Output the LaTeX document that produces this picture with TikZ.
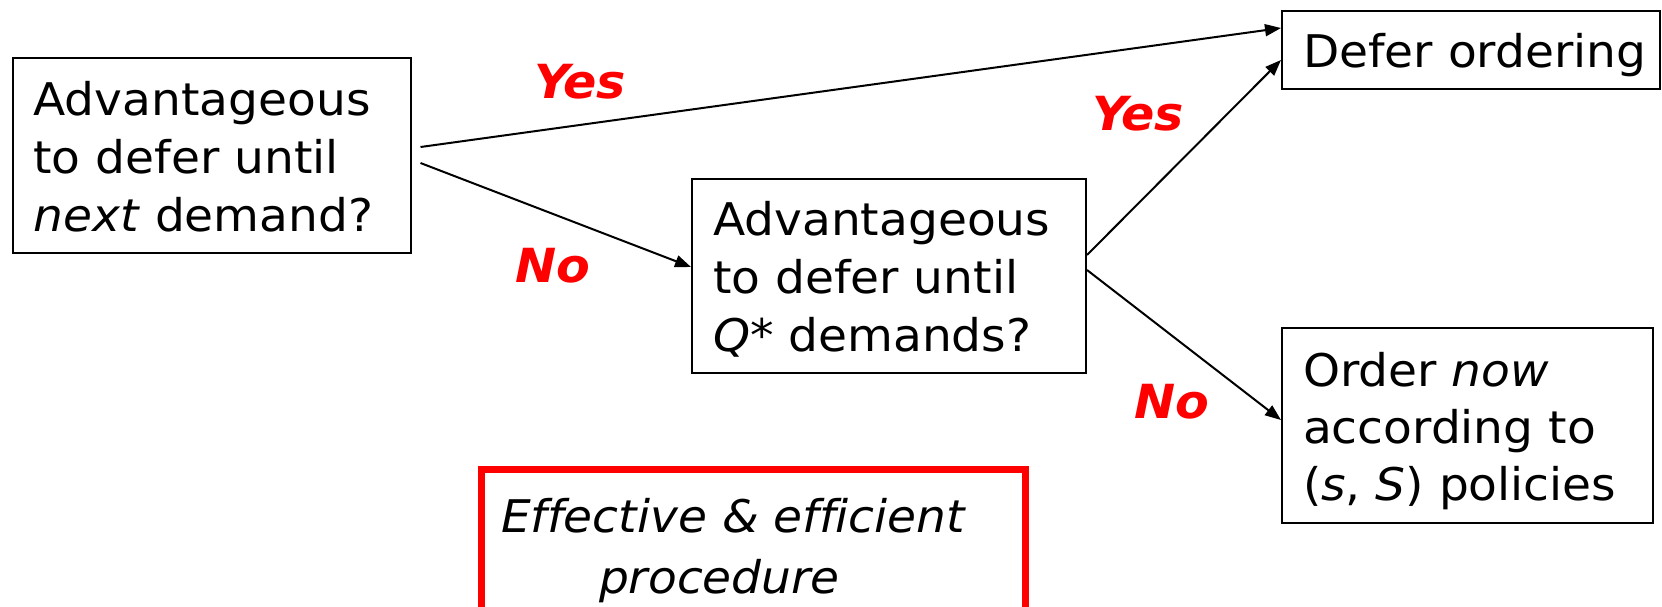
\documentclass[tikz,border=0pt]{standalone}
\usepackage{fontspec}
\setmainfont{DejaVu Sans}[Ligatures=CommonOff, FakeStretch=1.046]
\usetikzlibrary{arrows.meta,calc}
\newcommand{\topstrut}{\rule{0pt}{47pt}}
\newcommand{\botstrut}{\rule[-12pt]{0pt}{12pt}}
\begin{document}
\begin{tikzpicture}[x=1pt,y=-1pt,
  box/.style={draw, line width=2pt, inner xsep=21pt, inner ysep=0pt, align=left,
    font=\fontsize{45}{58}\selectfont},
  lab/.style={text=red, font=\fontsize{47}{54}\selectfont\bfseries\itshape, anchor=base, inner sep=0pt},
  arr/.style={line width=2pt, -{Triangle[length=16pt,width=12pt]}}]
\useasboundingbox (0,0) rectangle (1662,606);
\node[box, minimum width=398pt, minimum height=195pt, text width=356pt] (b1) at (211.5,155.5)
  {\topstrut Advantageous\\to defer until\\\textit{next} demand?\botstrut};
\node[box, minimum width=394pt, minimum height=194pt, text width=352pt] (b2) at (889,276)
  {\topstrut Advantageous\\to defer until\\\textit{Q}* demands?\botstrut};
\node[box, minimum width=378pt, minimum height=78pt, text width=336pt] (b3) at (1471,50)
  {\topstrut\mbox{Defer ordering}\botstrut};
\node[box, minimum width=371pt, minimum height=195pt, text width=329pt, font=\fontsize{45}{57}\selectfont] (b4) at (1467.5,425.5)
  {\topstrut Order \textit{now}\\according to\\(\textit{s}, \textit{S}) policies\botstrut};
\node[draw=red, line width=7.4pt, anchor=north west, minimum width=543.6pt, minimum height=157.6pt,
  inner xsep=19.3pt, inner ysep=0pt, text width=505pt, align=left,
  font=\fontsize{45}{61}\selectfont\itshape] (eff) at (478,466)
  {\rule{0pt}{40pt}Effective \& efficient\\\hspace*{98pt}procedure\botstrut};
\draw[arr] ([xshift=9pt,yshift=8.5pt]b1.east) -- ([yshift=22pt]b3.west);
\draw[arr] ([xshift=9pt,yshift=-7.5pt]b1.east) -- ([yshift=9pt]b2.west);
\draw[arr] ([yshift=21pt]b2.east) -- ([yshift=-10pt]b3.west);
\draw[arr] ([yshift=6pt]b2.east) -- ([yshift=5.5pt]b4.west);
\node[lab] (y1) at (580,98) {Yes};
\node[lab] (n1) at (553,282) {No};
\node[lab] (y2) at (1138,130) {Yes};
\node[lab] (n2) at (1172,418) {No};
\end{tikzpicture}
\end{document}
